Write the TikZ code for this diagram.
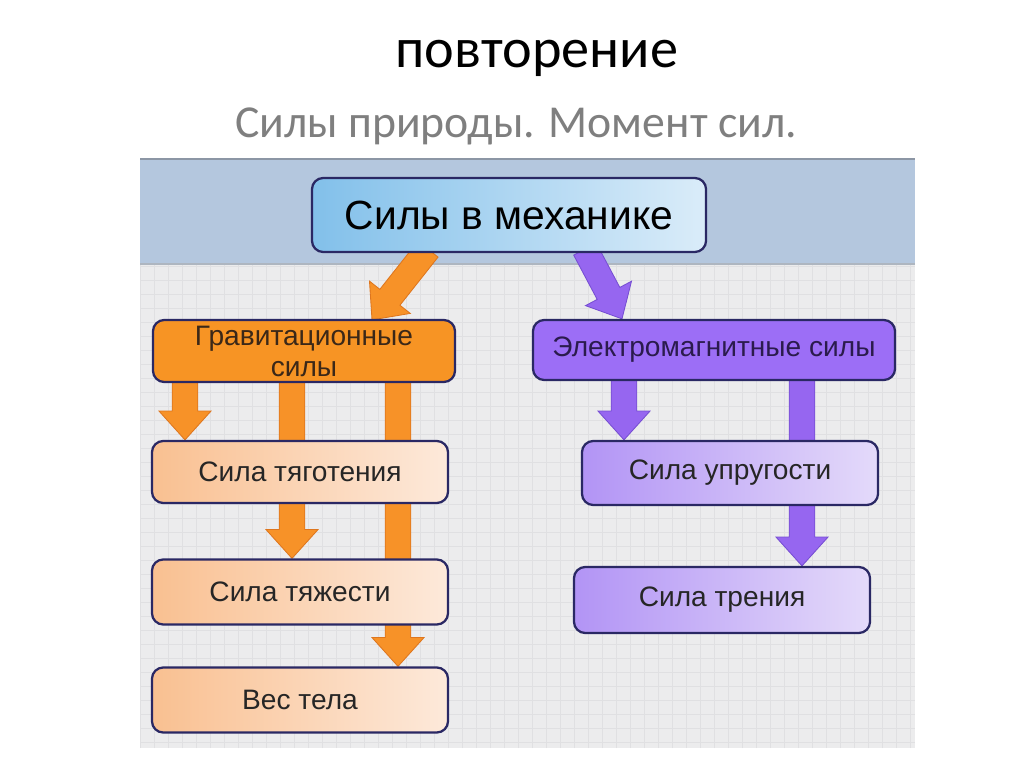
\documentclass[tikz,border=0pt]{standalone}
\usepackage{fontspec}
\setmainfont{Carlito}
\newfontfamily\boxfont{Liberation Sans}
\usetikzlibrary{calc}

\definecolor{bandblue}{RGB}{180,199,222}
\definecolor{bandedge}{RGB}{140,150,165}
\definecolor{gridbg}{RGB}{236,236,237}
\definecolor{gridcol}{RGB}{224,224,226}
\definecolor{boxline}{RGB}{42,40,100}
\definecolor{mechleft}{RGB}{130,192,234}
\definecolor{mechright}{RGB}{218,236,249}
\definecolor{gravfill}{RGB}{247,148,36}
\definecolor{oraleft}{RGB}{249,192,145}
\definecolor{oraright}{RGB}{253,233,218}
\definecolor{orarrow}{RGB}{247,146,40}
\definecolor{orline}{RGB}{222,118,30}
\definecolor{emfill}{RGB}{156,110,246}
\definecolor{purleft}{RGB}{178,148,245}
\definecolor{purright}{RGB}{228,218,250}
\definecolor{purarrow}{RGB}{150,102,240}
\definecolor{purline}{RGB}{118,78,210}
\definecolor{subgray}{RGB}{127,127,127}

\pgfdeclarelayer{back}
\pgfdeclarelayer{arrows}
\pgfsetlayers{back,arrows,main}

\newcommand{\shw}{0.32cm}
\newcommand{\hdw}{0.65cm}
\newcommand{\hdl}{0.72cm}
% fat block arrow: style, from, to
\newcommand{\fatarrow}[3]{%
  \draw[#1] let \p1=($(#3)-(#2)$), \n1={atan2(\y1,\x1)} in
    ($(#2)+(\n1+90:\shw)$) -- ($(#3)+(\n1+180:\hdl)+(\n1+90:\shw)$)
    -- ($(#3)+(\n1+180:\hdl)+(\n1+90:\hdw)$) -- (#3)
    -- ($(#3)+(\n1+180:\hdl)+(\n1-90:\hdw)$)
    -- ($(#3)+(\n1+180:\hdl)+(\n1-90:\shw)$)
    -- ($(#2)+(\n1-90:\shw)$) -- cycle;}

\tikzset{
  box/.style={draw=boxline, line width=1.6pt, rounded corners=8pt, inner sep=0pt,
    align=center, text=black!85, font=\boxfont\fontsize{20}{21}\selectfont},
  mainbox/.style={box, left color=mechleft, right color=mechright, minimum width=9.85cm,
    minimum height=1.85cm, font=\boxfont\fontsize{29}{31}\selectfont, text=black},
  gravbox/.style={box, fill=gravfill, minimum width=7.55cm, minimum height=1.55cm, text={rgb,255:red,59;green,40;blue,24}},
  embox/.style={box, fill=emfill, minimum width=9.05cm, minimum height=1.5cm, text={rgb,255:red,43;green,27;blue,77}},
  orabox/.style={box, left color=oraleft, right color=oraright, minimum width=7.4cm, minimum height=1.6cm},
  purbox/.style={box, left color=purleft, right color=purright, minimum width=7.4cm, minimum height=1.6cm},
  orarr/.style={fill=orarrow, draw=orline, line width=0.6pt},
  purarr/.style={fill=purarrow, draw=purline, line width=0.6pt}
}

\begin{document}
\begin{tikzpicture}[x=0.025cm, y=-0.025cm]

\useasboundingbox (0,0) rectangle (1024,767);

\node[anchor=base, font=\fontsize{40}{42}\selectfont] (title) at (537,68) {повторение};
\node[anchor=base, text=subgray, font=\fontsize{32.5}{34}\selectfont] (subtitle) at (516,138) {Силы природы. Момент сил.};

\begin{pgfonlayer}{back}
\fill[white] (0,0) rectangle (1024,767);
\fill[gridbg] (140,264) rectangle (915,748);
\draw[gridcol, line width=0.4pt, step=0.35cm] (140,264) grid (915,748);
\fill[bandblue] (140,158) rectangle (915,264);
\draw[bandedge, line width=1.5pt] (140,159) -- (915,159);
\draw[bandedge!70, line width=1.2pt] (140,264) -- (915,264);
\end{pgfonlayer}

\node[mainbox] (mech) at (509,215) {Силы в механике};
\node[gravbox] (grav) at (304,351) {Гравитационные\\[1pt]силы};
\node[embox] (em) at (714,350) {Электромагнитные силы};
\node[orabox, minimum height=1.55cm] (tyag) at (300,472) {Сила тяготения};
\node[orabox, minimum height=1.625cm] (tyazh) at (300,592) {Сила тяжести};
\node[orabox, minimum height=1.625cm] (ves) at (300,700) {Вес тела};
\node[purbox] (upr) at (730,473) {Сила упругости};
\node[purbox, minimum height=1.65cm] (tren) at (722,600) {Сила трения};

\coordinate (d1) at ($(mech.south)+(-81,-4)$);
\coordinate (d2) at ($(grav.north)+(68,1)$);
\coordinate (d3) at ($(mech.south)+(76,-4)$);
\coordinate (d4) at ($(em.north)+(-92,0)$);
\coordinate (g1) at ($(grav.south)+(-119,-3)$);
\coordinate (g2) at ($(tyag.north)+(-115,0)$);
\coordinate (g3) at ($(grav.south)+(-12,-3)$);
\coordinate (g4) at ($(tyazh.north)+(-8,0)$);
\coordinate (g5) at ($(grav.south)+(94,-3)$);
\coordinate (g6) at ($(ves.north)+(98,0)$);
\coordinate (e1) at ($(em.south)+(-90,-3)$);
\coordinate (e2) at ($(upr.north)+(-106,0)$);
\coordinate (e3) at ($(em.south)+(88,-3)$);
\coordinate (e4) at ($(tren.north)+(80,0)$);

\begin{pgfonlayer}{arrows}
\fatarrow{orarr}{d1}{d2}
\fatarrow{purarr}{d3}{d4}
\fatarrow{orarr}{g1}{g2}
\fatarrow{orarr}{g3}{g4}
\fatarrow{orarr}{g5}{g6}
\fatarrow{purarr}{e1}{e2}
\fatarrow{purarr}{e3}{e4}
\end{pgfonlayer}

\end{tikzpicture}
\end{document}
